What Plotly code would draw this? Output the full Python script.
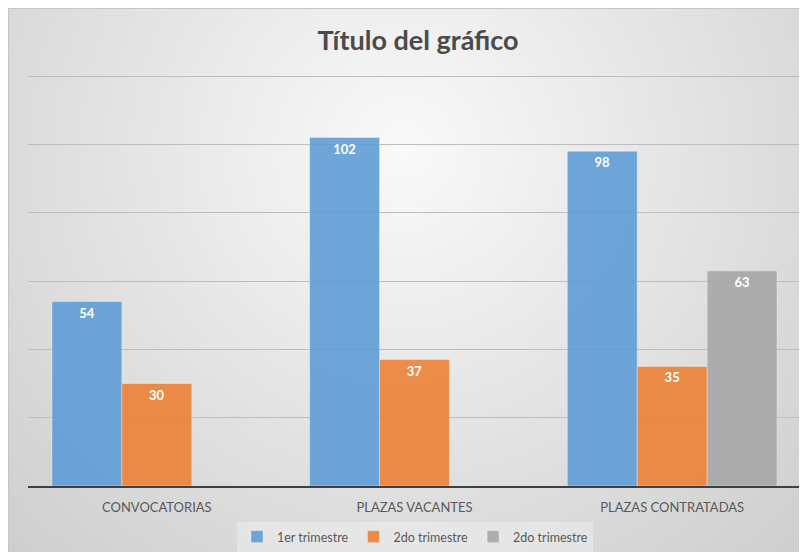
import base64, struct, zlib
import numpy as np
import plotly.graph_objects as go

categories = ["CONVOCATORIAS", "PLAZAS VACANTES", "PLAZAS CONTRATADAS"]
series_names = ["1er trimestre", "2do trimestre", "2do trimestre"]
serie1 = [54, 102, 98]
serie2 = [30, 37, 35]
serie3 = [None, None, 63]
title_text = "Título del gráfico"

W, H = 807, 552
OFF = 8  # page body margin
# plot area in page pixels: x 28..801, y 75..486
ML = 28 - OFF
MR = W - (801 - OFF)
MT = 75 - OFF
MB = H - (486 - OFF)
PW, PH = W - ML - MR, H - MT - MB


def px_x(p):  # page pixel -> paper
    return (p - OFF - ML) / PW


def px_y(p):
    return (H - MB - (p - OFF)) / PH


# radial grey gradient background image (whole figure)
yy, xx = np.mgrid[0:H, 0:W]
cx, cy = 404 - OFF, 150 - OFF
d = np.sqrt(((xx - cx) / 520.0) ** 2 + ((yy - cy) / 520.0) ** 2)
d = np.clip(d, 0, 1.15)
val = (250 - 40 * d).clip(0, 255).astype(np.uint8)
img = np.stack([val, val, val], axis=-1)


def png_uri(a):
    h, w, _ = a.shape
    raw = b"".join(b"\x00" + a[r].tobytes() for r in range(h))

    def chunk(t, data):
        c = struct.pack(">I", len(data)) + t + data
        return c + struct.pack(">I", zlib.crc32(t + data) & 0xffffffff)

    png = b"\x89PNG\r\n\x1a\n" + chunk(b"IHDR", struct.pack(">IIBBBBB", w, h, 8, 2, 0, 0, 0)) \
        + chunk(b"IDAT", zlib.compress(raw, 9)) + chunk(b"IEND", b"")
    return "data:image/png;base64," + base64.b64encode(png).decode()


colors = ["rgba(91,155,213,0.88)", "rgba(237,125,49,0.88)", "rgba(165,165,165,0.88)"]
fig = go.Figure()
for name, vals, col in zip(series_names, [serie1, serie2, serie3], colors):
    fig.add_trace(go.Bar(
        x=categories, y=vals, name=name,
        marker=dict(color=col, line=dict(color="rgba(255,255,255,0.35)", width=1)),
        text=[("" if v is None else str(v)) for v in vals],
        textposition="inside", insidetextanchor="end",
        insidetextfont=dict(color="white", size=13, family="Lato", weight="bold"),
        textangle=0,
        cliponaxis=False,
    ))

fig.update_layout(
    width=W, height=H,
    margin=dict(l=ML, r=MR, t=MT, b=MB, autoexpand=False),
    paper_bgcolor="white", plot_bgcolor="rgba(0,0,0,0)",
    barmode="group", bargap=0.186, bargroupgap=0,
    font=dict(family="Lato", color="#595959"),
    title=dict(text="<b>" + title_text + "</b>", x=px_x(418), xref="paper", xanchor="center",
               y=1 - (41 - OFF) / H, yanchor="middle",
               font=dict(size=27, color="#4a4a4a", family="Lato")),
    xaxis=dict(showline=True, linecolor="#3f3f3f", linewidth=2, showgrid=False,
               ticks="", tickfont=dict(size=13, color="#595959"), ticklabelstandoff=8),
    yaxis=dict(range=[0, 120.3], tickvals=[20, 40, 60, 80, 100, 120], showgrid=True,
               gridcolor="#bdbdbd", gridwidth=1,
               showticklabels=False, zeroline=False, fixedrange=True),
    legend=dict(orientation="h", x=px_x(415), xanchor="center", y=px_y(537), yanchor="middle",
                bgcolor="rgba(255,255,255,0.3)", font=dict(size=12.5, color="#595959"),
                itemwidth=30, traceorder="normal"),
    images=[dict(source=png_uri(img), xref="paper", yref="paper",
                 x=px_x(OFF), y=px_y(OFF), sizex=W / PW, sizey=H / PH,
                 xanchor="left", yanchor="top", sizing="stretch", layer="below")],
    shapes=[dict(type="rect", xref="paper", yref="paper",
                 x0=px_x(OFF + 0.5), x1=px_x(W + 20), y0=px_y(H + 20), y1=px_y(OFF + 0.5),
                 line=dict(color="#c6c6c6", width=1), fillcolor="rgba(0,0,0,0)", layer="below")],
)

fig.write_html("out.html")
